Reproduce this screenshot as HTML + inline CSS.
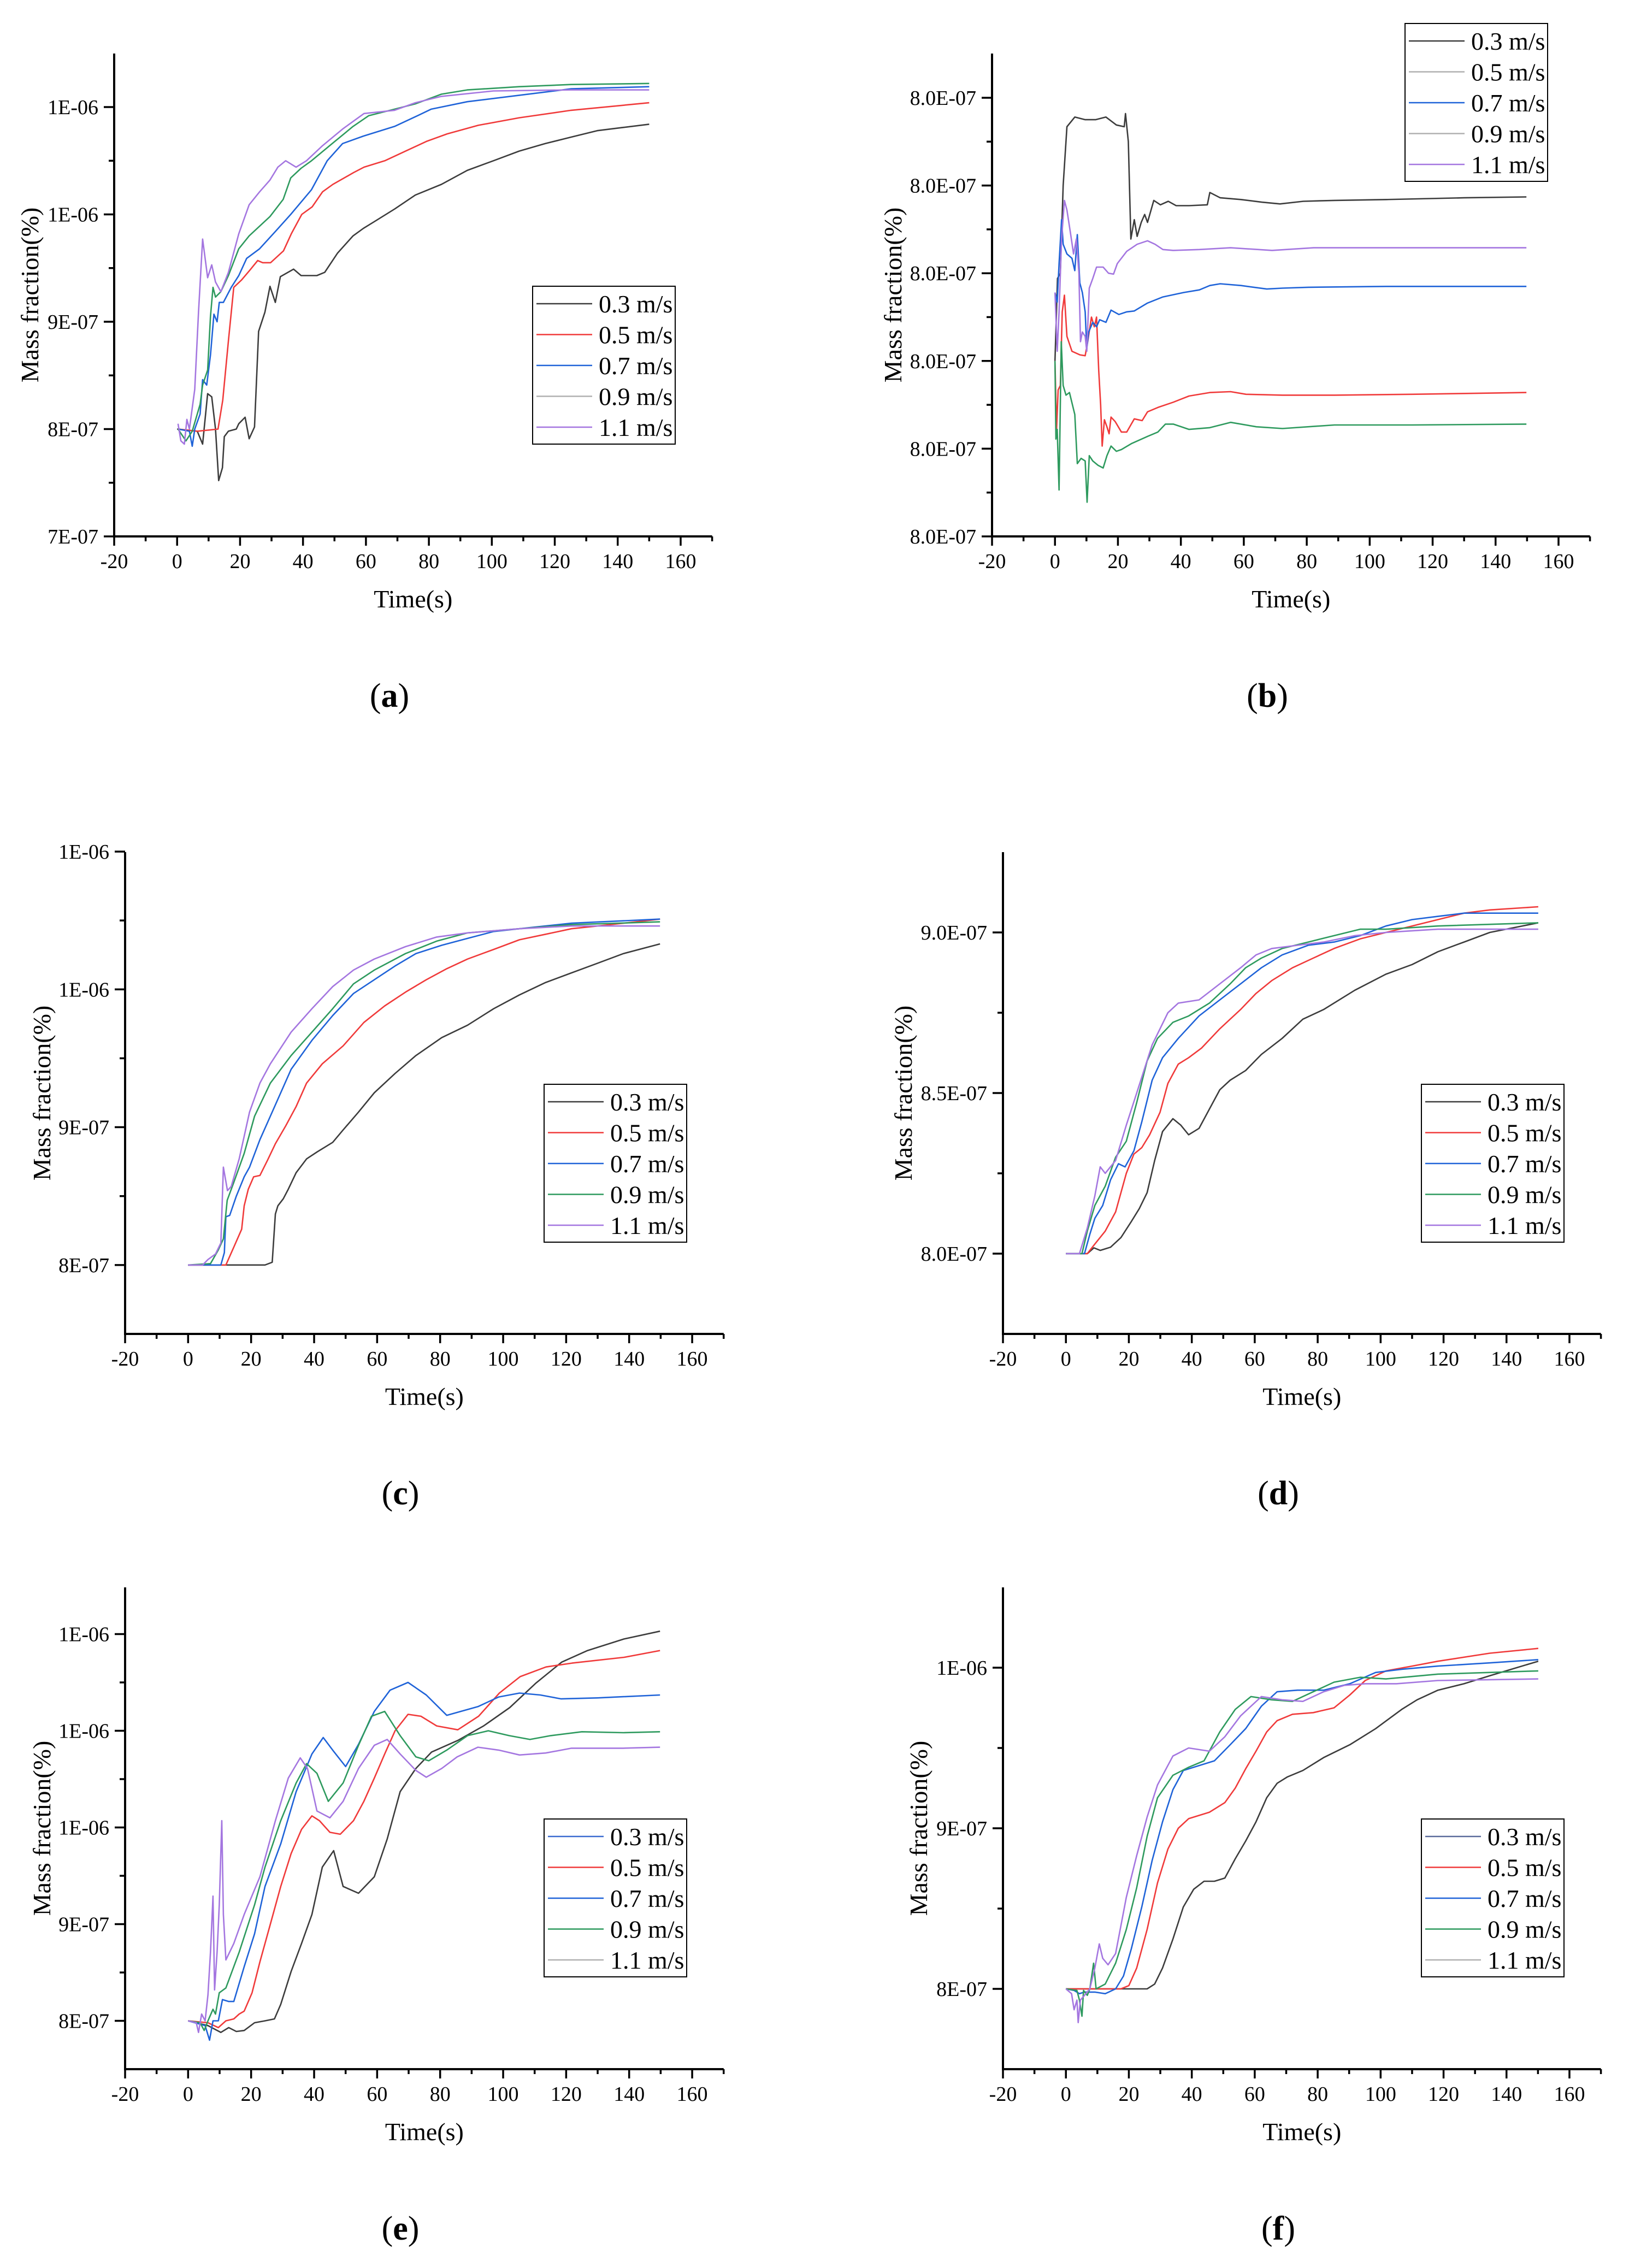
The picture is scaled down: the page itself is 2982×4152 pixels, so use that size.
<!DOCTYPE html>
<html><head><meta charset="utf-8"><style>
html,body{margin:0;padding:0;background:#fff}
svg{display:block}
text{font-family:"Liberation Serif",serif;fill:#000}
</style></head><body>
<svg id="fig" width="2982" height="4152" viewBox="0 0 2982 4152" xmlns="http://www.w3.org/2000/svg">
<rect width="2982" height="4152" fill="#fff"/>
</svg>
<script>
// ---------- DATA (values in units of 1E-07 mass fraction; panel b in tick levels) ----------
const seriesNames = ["0.3 m/s","0.5 m/s","0.7 m/s","0.9 m/s","1.1 m/s"];

const aT0=[0,6.4,8.1,9.7,11,12.2,13.2,14.4,15,16.3,18.8,19.6,21.6,22.9,24.6,25.9,27.9,29.5,31.2,32.8,37,39.4,44.4,46.9,51,55.9,59.2,62.5,69.1,75.7,84,92.2,100.5,108.7,117,125.2,133.5,141.7,150];
const aV0=[8.0,7.98,7.86,8.33,8.3,8.0,7.52,7.64,7.93,7.98,8.0,8.05,8.11,7.91,8.02,8.91,9.09,9.33,9.18,9.42,9.49,9.43,9.43,9.46,9.64,9.8,9.87,9.93,10.05,10.18,10.28,10.41,10.5,10.59,10.66,10.72,10.78,10.81,10.84];
const aT1=[0.3,6.4,9.7,13,14.5,16.3,18,20.5,23.1,25.6,27.2,29.7,33.8,36.3,39.6,42.9,46.2,49.5,56.1,59.4,66,72.6,79.2,85.8,95.7,108.7,125.2,150];
const aV1=[8.0,7.98,7.99,8.0,8.27,8.82,9.32,9.39,9.48,9.57,9.55,9.55,9.66,9.82,10.0,10.07,10.21,10.28,10.39,10.44,10.5,10.59,10.68,10.75,10.83,10.9,10.97,11.04];
const aT2=[0.3,3.9,4.8,5.6,7.3,8.1,9.4,10.6,11.7,12.7,13.4,14.7,17.2,19.6,22.1,26.2,31.2,36.1,42.7,47.7,52.6,59.2,69.1,75.7,80.7,92.2,108.7,125.2,150];
const aV2=[8.0,7.98,7.84,8.0,8.14,8.46,8.41,8.69,9.07,9.0,9.18,9.18,9.32,9.43,9.59,9.68,9.84,10.0,10.23,10.5,10.66,10.73,10.82,10.91,10.98,11.05,11.11,11.17,11.19];
const aT3=[0.3,2.8,4.8,7.3,8.1,9.7,10.6,11.4,12.2,13.9,16.3,19.6,22.9,26.2,29.5,33.7,36.1,39.4,42.7,49.3,55.9,60.9,69.1,75.7,84,92.2,108.7,125.2,150];
const aV3=[8.0,7.89,7.98,8.23,8.41,8.55,9.05,9.32,9.23,9.28,9.43,9.68,9.8,9.89,9.98,10.14,10.34,10.43,10.5,10.66,10.82,10.92,10.98,11.03,11.12,11.16,11.19,11.21,11.22];
const aT4=[0.3,1.2,2.3,3.1,3.9,5.6,6.8,8.1,9.7,11,12.2,13.9,16.3,19.6,22.9,26.2,29.5,32,34.5,37.8,41.1,46.2,52.8,59.4,69.1,75.7,84,100.5,125.2,150];
const aV4=[8.05,7.89,7.86,8.09,8.0,8.37,9.09,9.77,9.41,9.53,9.37,9.28,9.46,9.82,10.09,10.21,10.32,10.44,10.5,10.44,10.5,10.64,10.8,10.94,10.97,11.04,11.1,11.15,11.16,11.16];

const bT0=[0,0.8,1.7,2.6,3.8,6.3,9.6,12.9,16.2,19.5,22,22.4,23.3,24.1,25.2,26.1,27.4,28.5,29.4,31.4,33.5,36,38.5,42.6,48.4,49.2,52.5,59.1,65.7,71.5,78.9,88.8,105.3,130,149.8];
const bV0=[2.0,2.94,3.0,4.0,4.67,4.78,4.75,4.75,4.78,4.69,4.67,4.82,4.5,3.39,3.61,3.42,3.58,3.67,3.58,3.83,3.78,3.82,3.77,3.77,3.78,3.92,3.86,3.84,3.81,3.79,3.82,3.83,3.84,3.86,3.87];
const bT1=[0,0.5,1,1.7,2.3,3,3.8,5.4,7.9,9.6,10.4,11.6,12.5,13.2,13.9,14.5,15,15.7,16.5,17.2,17.8,19.1,21.1,22.8,25.2,27.7,29.4,32.7,37.6,42.6,49.2,55.8,60.7,72.3,88.8,113.5,149.8];
const bV1=[2.0,1.22,1.67,1.72,2.56,2.75,2.28,2.11,2.07,2.06,2.22,2.5,2.39,2.5,1.89,1.5,1.03,1.33,1.25,1.17,1.36,1.31,1.19,1.19,1.34,1.32,1.42,1.47,1.53,1.6,1.64,1.65,1.62,1.61,1.61,1.62,1.64];
const bT2=[0,0.7,1.3,2.1,2.6,3.8,5.4,6.3,7.1,7.9,8.7,9.6,10.1,10.7,12,13.2,14.2,16.2,17.8,20.3,22.8,25.2,29.4,34.3,40.9,45.9,49.2,52.5,59.1,67.3,72.3,80.5,105.3,149.8];
const bV2=[2.78,2.67,3.11,3.61,3.33,3.22,3.17,3.03,3.44,2.89,2.78,2.56,2.14,2.33,2.44,2.39,2.47,2.44,2.58,2.53,2.56,2.57,2.66,2.73,2.78,2.81,2.86,2.88,2.86,2.82,2.83,2.84,2.85,2.85];
const bT3=[0,0.3,0.7,1.3,2,2.6,3.5,4.6,6.3,7.1,8.3,9.6,10.2,10.9,12,13.7,15.3,16.5,17.8,19.5,21.1,24.4,29.4,32.7,35.1,37.6,42.6,49.2,55.8,64,72.3,88.8,113.5,149.8];
const bV3=[2.0,1.11,1.22,0.53,2.22,1.72,1.61,1.64,1.39,0.83,0.89,0.86,0.39,0.92,0.86,0.81,0.78,0.92,1.03,0.97,0.99,1.06,1.14,1.19,1.28,1.28,1.22,1.24,1.3,1.25,1.23,1.27,1.27,1.28];
const bT4=[0,0.7,1.3,2.1,3,3.8,5,5.9,6.8,7.6,8.1,8.7,9.6,10.1,10.9,12,13.2,15.3,17,18.6,19.8,22.8,26.1,29.4,31.8,34.3,37.6,45.9,55.8,69,82.2,113.5,149.8];
const bV4=[2.78,2.11,2.56,3.39,3.83,3.72,3.44,3.22,3.39,3.0,2.22,2.33,2.28,2.11,2.83,2.94,3.07,3.07,3.0,2.99,3.11,3.25,3.33,3.37,3.33,3.27,3.26,3.27,3.29,3.26,3.29,3.29,3.29];

const cT0=[0,24.4,26.7,27.7,28.5,30.2,31.8,34.3,37.6,40.9,45.9,49.2,54.1,59.1,65.7,72.3,80.5,88.7,97,105.2,113.5,121.7,130,138.2,149.8];
const cV0=[8,8,8.02,8.37,8.43,8.48,8.55,8.67,8.77,8.82,8.89,8.98,9.11,9.25,9.39,9.52,9.65,9.74,9.86,9.96,10.05,10.12,10.19,10.26,10.33];
const cT1=[0,12,14.5,17,17.8,19.1,20.8,22.8,25.2,27.7,31,34.3,37.6,42.6,49.2,55.8,62.4,69,75.6,82.1,88.7,97,105.2,113.5,121.7,130,138.2,149.8];
const cV1=[8,8,8.13,8.26,8.43,8.55,8.64,8.65,8.76,8.88,9.01,9.15,9.32,9.46,9.59,9.76,9.88,9.98,10.07,10.15,10.22,10.29,10.36,10.4,10.44,10.46,10.48,10.51];
const cT2=[0,10.4,11.5,12,13.2,15.3,17.8,19.5,22.8,26.1,29.4,32.7,39.3,45.9,52.5,59.1,65.7,72.3,80.5,88.7,97,105.2,121.7,149.8];
const cV2=[8,8,8.09,8.35,8.36,8.5,8.64,8.71,8.91,9.08,9.25,9.42,9.63,9.81,9.97,10.07,10.17,10.26,10.32,10.37,10.42,10.44,10.48,10.51];
const cT3=[0,7.1,9.6,11.2,12.4,14.5,17.8,21.1,26.1,32.7,39.3,45.9,52.5,59.1,69,78.9,88.7,105.2,121.7,149.8];
const cV3=[8,8.01,8.11,8.19,8.47,8.6,8.81,9.08,9.32,9.52,9.69,9.86,10.04,10.14,10.26,10.35,10.41,10.44,10.47,10.49];
const cT4=[0,4.6,6.3,8.7,10.4,11.2,12.5,13.7,16.2,19.5,22.8,26.1,32.7,39.3,45.9,52.5,59.1,69,78.9,88.7,105.2,121.7,149.8];
const cV4=[8,8,8.04,8.08,8.16,8.71,8.54,8.57,8.77,9.11,9.32,9.46,9.69,9.86,10.02,10.14,10.22,10.31,10.38,10.41,10.44,10.46,10.46];

const dT0=[0,6.8,8.9,10.9,14.2,17.5,20.8,23.3,25.8,28.2,30.7,34,36.5,39,42.3,45.6,48.9,52.2,57.1,62.1,68.7,75.3,81.9,91.8,101.7,110,118.2,126.5,134.7,150.1];
const dV0=[8,8,8.018,8.01,8.02,8.05,8.1,8.14,8.19,8.29,8.38,8.42,8.40,8.37,8.39,8.45,8.51,8.54,8.57,8.62,8.67,8.73,8.76,8.82,8.87,8.9,8.94,8.97,9.0,9.03];
const dT1=[0,6.8,9.2,12.5,15.8,19.2,21.6,24.1,26.6,29.9,32.4,35.7,39,43.1,48.9,55.5,60.4,65.4,72,78.6,85.2,93.5,101.7,110,118.2,126.5,134.7,150.1];
const dV1=[8,8,8.03,8.07,8.13,8.25,8.31,8.33,8.37,8.44,8.53,8.59,8.61,8.64,8.70,8.76,8.81,8.85,8.89,8.92,8.95,8.98,9.0,9.02,9.04,9.06,9.07,9.08];
const dT2=[0,5.9,7.6,9.2,11.7,14.2,16.7,18.8,21.6,24.1,27.4,30.7,35.7,42.3,48.9,55.5,62.1,68.7,77,85.2,93.5,101.7,110,118.2,126.5,150.1];
const dV2=[8,8,8.06,8.11,8.15,8.23,8.28,8.27,8.32,8.41,8.54,8.61,8.67,8.74,8.79,8.84,8.89,8.93,8.96,8.97,8.99,9.02,9.04,9.05,9.06,9.06];
const dT3=[0,5.1,6.8,9.2,12.5,15.8,19.2,22.5,25.8,29.1,34,39,45.6,52.2,57.1,62.1,68.7,77,85.2,93.5,101.7,118.2,150.1];
const dV3=[8,8,8.07,8.15,8.21,8.30,8.35,8.47,8.6,8.67,8.72,8.74,8.78,8.84,8.89,8.92,8.95,8.97,8.99,9.01,9.01,9.02,9.03];
const dT4=[0,4.3,6.8,9.2,10.9,12.5,15.8,19.2,22.5,27.4,32.4,35.7,42.3,48.9,55.5,60.4,65.4,73.6,81.9,91.8,101.7,118.2,150.1];
const dV4=[8,8,8.08,8.18,8.27,8.25,8.29,8.40,8.5,8.65,8.75,8.78,8.79,8.84,8.89,8.93,8.95,8.96,8.97,8.99,9.0,9.01,9.01];

const eT0=[0,6.3,10.4,12.9,15.3,17.8,21.1,24.4,27.4,29.4,32.7,36,39.3,42.6,46.2,49.2,54.1,59.1,63.2,67.3,72.3,77.3,85.6,93.8,102.1,110.3,118.6,126.8,138.4,149.8];
const eV0=[8,7.95,7.88,7.93,7.89,7.9,7.98,8.0,8.02,8.17,8.51,8.8,9.1,9.59,9.76,9.39,9.32,9.49,9.88,10.37,10.61,10.78,10.9,11.05,11.24,11.49,11.71,11.83,11.95,12.03];
const eT1=[0,6.3,9.6,12,14.5,16.2,17.8,20.3,22.8,26.1,29.4,32.7,36,39.3,41.7,45,48.3,52.5,55.8,59.1,62.4,65.7,69.8,73.9,78.9,85.6,92.2,98.8,105.4,113.6,121.9,138.4,149.8];
const eV1=[8,7.98,7.93,8,8.02,8.07,8.1,8.29,8.61,9.0,9.39,9.73,9.98,10.12,10.07,9.95,9.93,10.07,10.27,10.51,10.76,11.0,11.17,11.15,11.05,11.01,11.15,11.39,11.56,11.66,11.7,11.76,11.83];
const eT2=[0,5.4,6.8,7.9,9.6,10.9,12.9,14.5,17.8,21.1,24.4,29.4,34.3,39.3,42.9,45.9,50,54.1,59.1,64.1,69.8,75.6,82.1,92,98.6,105.2,111.8,118.4,130,149.8];
const eV2=[8,7.95,7.8,8,8,8.22,8.2,8.2,8.56,8.9,9.39,9.83,10.37,10.76,10.93,10.8,10.63,10.86,11.2,11.42,11.5,11.37,11.16,11.25,11.35,11.39,11.37,11.33,11.34,11.37];
const eT3=[0,3.8,5.1,6.3,7.9,8.7,9.9,12,16.2,21.1,24.4,29.4,34.3,37.6,40.9,44.5,49.2,54.1,58.2,62.4,67.3,72.3,76.4,82.1,88.7,95.3,101.9,108.5,115.1,125,138.2,149.8];
const eV3=[8,7.98,7.9,8,8.12,8.07,8.29,8.34,8.71,9.2,9.59,10.07,10.46,10.66,10.56,10.27,10.46,10.85,11.15,11.2,10.95,10.73,10.69,10.8,10.95,11.0,10.95,10.91,10.95,10.99,10.98,10.99];
const eT4=[0,2.6,3.3,4.3,5.4,6.3,7.1,7.9,8.4,9.2,9.9,10.7,11.2,12,14.5,17.8,22.8,27.7,31.8,35.6,37.9,40.9,45,49.2,54.1,59.1,63.2,67.3,72.3,75.6,80.5,85.4,92,98.6,105.2,113.5,121.7,138.2,149.8];
const eV4=[8,7.98,7.88,8.07,8,8.27,8.71,9.29,8.32,8.71,9.2,10.07,9.1,8.63,8.8,9.1,9.49,10.07,10.51,10.72,10.61,10.17,10.1,10.27,10.61,10.85,10.91,10.76,10.59,10.52,10.61,10.73,10.83,10.8,10.75,10.77,10.82,10.82,10.83];

const fT0=[0,25.8,28.2,30.7,34,37.3,40.6,43.9,47.2,50.5,53.8,57.1,60.4,63.8,67.1,70.4,75.3,81.9,90.2,98.4,106.7,111.6,118.2,126.5,134.7,150.1];
const fV0=[8,8,8.03,8.13,8.31,8.51,8.62,8.67,8.67,8.69,8.81,8.92,9.04,9.19,9.28,9.32,9.36,9.44,9.52,9.62,9.74,9.8,9.86,9.9,9.95,10.04];
const fT1=[0,17.5,20,22.5,25.8,29.1,32.4,35.7,39,45.6,50.5,53.8,57.1,60.4,63.8,67.1,72,78.6,85.2,90.2,95.1,101.7,110,118.2,134.7,150.1];
const fV1=[8,8,8.02,8.13,8.37,8.66,8.87,9.0,9.06,9.1,9.16,9.25,9.37,9.48,9.6,9.67,9.71,9.72,9.75,9.83,9.92,9.98,10.01,10.04,10.09,10.12];
const fT2=[0,2.6,4.3,5.9,9.2,12.5,15.8,18.3,20.8,24.1,27.4,30.7,34,37.3,42.3,47.2,52.2,57.1,62.1,67.1,73.6,81.9,90.2,98.4,106.7,118.2,134.7,150.1];
const fV2=[8,7.99,7.97,7.98,7.98,7.97,8,8.08,8.25,8.51,8.8,9.04,9.24,9.36,9.39,9.42,9.52,9.62,9.76,9.85,9.86,9.86,9.9,9.97,9.99,10.01,10.03,10.05];
const fT3=[0,3.5,4.3,5.1,5.6,6.8,7.6,8.8,9.6,12.5,15.8,19.2,22.5,25.8,29.1,34,39,43.9,48.9,53.8,58.8,65.4,72,78.6,85.2,93.5,101.7,118.2,150.1];
const fV3=[8,7.99,7.93,7.83,7.99,7.96,8,8.16,8,8.03,8.16,8.37,8.63,8.95,9.19,9.33,9.38,9.42,9.6,9.74,9.82,9.8,9.79,9.85,9.91,9.94,9.93,9.96,9.98];
const fT4=[0,1.8,2.6,3.5,3.9,4.6,5.9,7.6,9.2,10.6,11.7,13.4,15.8,19.2,22.5,25.8,29.1,34,39,45.6,50.5,55.5,62.1,68.7,75.3,81.9,88.5,95.1,105,118.2,150.1];
const fV4=[8,7.97,7.87,7.93,7.79,7.93,7.96,8,8.13,8.28,8.19,8.15,8.22,8.57,8.83,9.07,9.27,9.45,9.5,9.48,9.57,9.7,9.82,9.8,9.79,9.85,9.89,9.9,9.9,9.92,9.93];

const xTickVals=[-20,0,20,40,60,80,100,120,140,160];
const aYTicks=[7,8,9,10,11], aYLabels=["7E-07","8E-07","9E-07","1E-06","1E-06"];
const bYTicks=[0,1,2,3,4,5], bYLabels=["8.0E-07","8.0E-07","8.0E-07","8.0E-07","8.0E-07","8.0E-07"];
const cYTicks=[8,9,10,11], cYLabels=["8E-07","9E-07","1E-06","1E-06"];
const dYTicks=[8,8.5,9], dYLabels=["8.0E-07","8.5E-07","9.0E-07"];
const eYTicks=[8,9,10,11,12], eYLabels=["8E-07","9E-07","1E-06","1E-06","1E-06"];
const fYTicks=[8,9,10], fYLabels=["8E-07","9E-07","1E-06"];

// ---------- STYLE / LAYOUT ----------
const C=["#3c3c3c","#f03a3a","#1f63d8","#2e9a5e","#a476e0"];
const NS="http://www.w3.org/2000/svg";
const svg=document.getElementById('fig');
function mk(tag,attrs,parent){const e=document.createElementNS(NS,tag);for(const k in attrs)e.setAttribute(k,attrs[k]);(parent||svg).appendChild(e);return e;}

const panels=[
 {id:'a',x0:209,yB:982,yT:98,ppt:5.761,vMin:7,ppv:196.5,ticks:aYTicks,labels:aYLabels,minor:[7.5,8.5,9.5,10.5],
  T:[aT0,aT1,aT2,aT3,aT4],V:[aV0,aV1,aV2,aV3,aV4],leg:[975,524],legC:[C[0],C[1],C[2],"#b0b0b0",C[4]],ylx:54},
 {id:'b',x0:1816,yB:982,yT:98,ppt:5.761,vMin:0,ppv:160.6,ticks:bYTicks,labels:bYLabels,minor:[0.5,1.5,2.5,3.5,4.5],
  T:[bT0,bT1,bT2,bT3,bT4],V:[bV0,bV1,bV2,bV3,bV4],leg:[2572,43],legC:[C[0],"#b0b0b0",C[2],"#b0b0b0",C[4]],ylx:1634},
 {id:'c',x0:229,yB:2442,yT:1560,ppt:5.767,vMin:7.5,ppv:252.3,ticks:cYTicks,labels:cYLabels,minor:[8.5,9.5,10.5],
  T:[cT0,cT1,cT2,cT3,cT4],V:[cV0,cV1,cV2,cV3,cV4],leg:[996,1985],legC:C,ylx:76},
 {id:'d',x0:1836,yB:2442,yT:1560,ppt:5.761,vMin:7.75,ppv:588,ticks:dYTicks,labels:dYLabels,minor:[8.25,8.75],
  T:[dT0,dT1,dT2,dT3,dT4],V:[dV0,dV1,dV2,dV3,dV4],leg:[2602,1985],legC:C,ylx:1653},
 {id:'e',x0:229,yB:3788,yT:2906,ppt:5.767,vMin:7.5,ppv:177,ticks:eYTicks,labels:eYLabels,minor:[8.5,9.5,10.5,11.5],
  T:[eT0,eT1,eT2,eT3,eT4],V:[eV0,eV1,eV2,eV3,eV4],leg:[996,3330],legC:["#3a6ad0",C[1],C[2],C[3],"#b0b0b0"],ylx:76},
 {id:'f',x0:1836,yB:3788,yT:2906,ppt:5.761,vMin:7.5,ppv:294,ticks:fYTicks,labels:fYLabels,minor:[8.5,9.5],
  T:[fT0,fT1,fT2,fT3,fT4],V:[fV0,fV1,fV2,fV3,fV4],leg:[2602,3330],legC:["#5a6a9a",C[1],C[2],C[3],"#b0b0b0"],ylx:1681}
];

panels.forEach(p=>{
  const g=mk('g',{});
  
  
  const xs=t=>p.x0+(t+20)*p.ppt;
  const ys=v=>p.yB-(v-p.vMin)*p.ppv;
  const xR=xs(170);
  // series
  p.T.forEach((tArr,i)=>{
    const d=tArr.map((t,j)=>(j?'L':'M')+xs(t).toFixed(1)+' '+ys(p.V[i][j]).toFixed(1)).join(' ');
    const path=mk('path',{d:d,fill:'none',stroke:C[i],'stroke-width':2.6,'stroke-linejoin':'round'},g);
    
    
  });
  // axes
  const ax=mk('path',{d:`M${p.x0} ${p.yT} L${p.x0} ${p.yB} L${xR} ${p.yB}`,fill:'none',stroke:'#000','stroke-width':4},g);
  
  
  // x ticks
  for(let t=-20;t<=170;t+=10){
    const major=(t%20===0);
    mk('line',{x1:xs(t),x2:xs(t),y1:p.yB,y2:p.yB+(major?17:9),stroke:'#000','stroke-width':3.5},g);
  }
  xTickVals.forEach(t=>{
    const tx=mk('text',{x:xs(t),y:p.yB+58,'font-size':38,'text-anchor':'middle'},g);
    tx.textContent=String(t);
    
    
  });
  // y ticks
  p.ticks.forEach((v,i)=>{
    mk('line',{x1:p.x0-19,x2:p.x0,y1:ys(v),y2:ys(v),stroke:'#000','stroke-width':3.5},g);
    const tx=mk('text',{x:p.x0-29,y:ys(v)+13,'font-size':38,'text-anchor':'end'},g);
    tx.textContent=p.labels[i];
    
    
  });
  p.minor.forEach(v=>mk('line',{x1:p.x0-10,x2:p.x0,y1:ys(v),y2:ys(v),stroke:'#000','stroke-width':3.5},g));
  // titles
  const xt=mk('text',{x:(p.x0+xR)/2,y:p.yB+130,'font-size':46,'text-anchor':'middle'},g);
  xt.textContent='Time(s)';
  
  
  const yc=(p.yT+p.yB)/2;
  const yt=mk('text',{x:p.ylx+16,y:yc,'font-size':46,'text-anchor':'middle',transform:`rotate(-90 ${p.ylx+16} ${yc})`},g);
  yt.textContent='Mass fraction(%)';
  
  
  const pl=mk('text',{x:p.x0+504,y:p.yB+312,'font-size':62,'text-anchor':'middle'},g);
  pl.innerHTML='(<tspan font-weight="bold">'+p.id+'</tspan>)';
  
  
  // legend
  const L=p.leg[0],T=p.leg[1];
  const lg=mk('g',{},g);
  
  
  mk('rect',{x:L,y:T,width:261,height:289,fill:'#fff',stroke:'#000','stroke-width':2},lg);
  seriesNames.forEach((n,i)=>{
    const ry=T+32+i*56.5;
    const e=mk('g',{},lg);
    
    
    mk('line',{x1:L+7,x2:L+109,y1:ry,y2:ry,stroke:p.legC[i],'stroke-width':2.4},e);
    const tx=mk('text',{x:L+121,y:ry+16,'font-size':46},e);
    tx.textContent=n;
  });
});
</script>
</body></html>
